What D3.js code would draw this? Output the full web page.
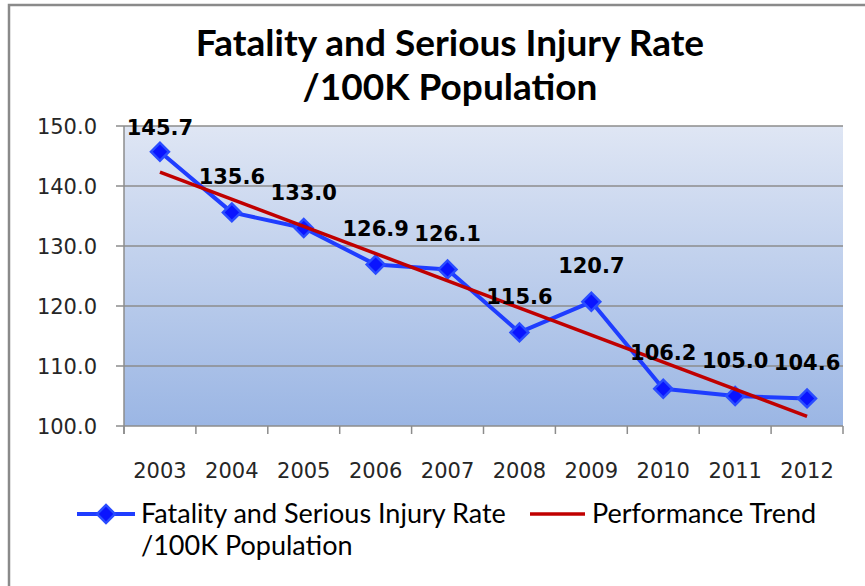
<!DOCTYPE html>
<html>
<head>
<meta charset="utf-8">
<script src="https://d3js.org/d3.v7.min.js"></script>
<style>
body { margin: 0; padding: 0; background: #ffffff; }
svg text { fill: #000; }
.ytick text, .xtick text { font-family: "DejaVu Sans", sans-serif; font-size: 21px; fill: #262626; }
.grid line { stroke: #8c8c8c; stroke-width: 1.5; }
.dlabel { font-family: "DejaVu Sans", sans-serif; font-size: 21px; font-weight: bold; }
.title { font-family: Lato, sans-serif; font-weight: bold; font-size: 37px; }
.legend text { font-family: Lato, sans-serif; font-size: 27px; }
</style>
</head>
<body>
<svg id="chart" width="865" height="586"></svg>
<script>
// chart values
const years = ["2003", "2004", "2005", "2006", "2007", "2008", "2009", "2010", "2011", "2012"];
const rates = [145.7, 135.6, 133.0, 126.9, 126.1, 115.6, 120.7, 106.2, 105.0, 104.6];
const trendYears = ["2003", "2012"];
const trendValues = [142.3, 101.6];
const yTicks = [100, 110, 120, 130, 140, 150];

const plot = {left: 124, top: 126, right: 843, bottom: 426};

const svg = d3.select("#chart");

// outer frame
svg.append("rect")
    .attr("x", 9).attr("y", 5).attr("width", 870).attr("height", 600)
    .attr("fill", "#fff").attr("stroke", "#8a8a8a").attr("stroke-width", 2.5);

const defs = svg.append("defs");
const grad = defs.append("linearGradient").attr("id", "bg").attr("x1", 0).attr("y1", 0).attr("x2", 0).attr("y2", 1);
grad.append("stop").attr("offset", "0%").attr("stop-color", "#dfe6f4");
grad.append("stop").attr("offset", "100%").attr("stop-color", "#9bb6e4");

const x = d3.scaleBand().domain(years).range([plot.left, plot.right]);
const y = d3.scaleLinear().domain([100, 150]).range([plot.bottom, plot.top]);

svg.append("rect")
    .attr("x", plot.left).attr("y", plot.top)
    .attr("width", plot.right - plot.left).attr("height", plot.bottom - plot.top)
    .attr("fill", "url(#bg)");

// grid lines
svg.append("g").attr("class", "grid")
  .selectAll("line").data(yTicks).join("line")
    .attr("x1", plot.left - 8).attr("x2", plot.right)
    .attr("y1", d => y(d)).attr("y2", d => y(d));

// y axis line
svg.append("line")
    .attr("x1", plot.left).attr("x2", plot.left)
    .attr("y1", plot.top).attr("y2", plot.bottom + 8)
    .attr("stroke", "#8c8c8c").attr("stroke-width", 1.5);

// x tick marks at band edges
const edges = years.map(d => x(d)).concat([plot.right]);
svg.append("g").selectAll("line").data(edges).join("line")
    .attr("x1", d => d).attr("x2", d => d)
    .attr("y1", plot.bottom).attr("y2", plot.bottom + 8)
    .attr("stroke", "#8c8c8c").attr("stroke-width", 1.5);

// y tick labels
svg.append("g").attr("class", "ytick")
  .selectAll("text").data(yTicks).join("text")
    .attr("x", 97).attr("y", d => y(d)).attr("dy", "0.36em")
    .attr("text-anchor", "end")
    .text(d => d.toFixed(1));

// x tick labels
svg.append("g").attr("class", "xtick")
  .selectAll("text").data(years).join("text")
    .attr("x", d => x(d) + x.bandwidth() / 2).attr("y", 478)
    .attr("text-anchor", "middle")
    .text(d => d);

const cx = d => x(d) + x.bandwidth() / 2;

// series line
const pts = years.map((d, i) => ({year: d, v: rates[i]}));
svg.append("path")
    .datum(pts)
    .attr("fill", "none").attr("stroke", "#1f3dff").attr("stroke-width", 4)
    .attr("stroke-linejoin", "round")
    .attr("d", d3.line().x(d => cx(d.year)).y(d => y(d.v)));

// diamonds
const diamond = d3.symbol().type(d3.symbolSquare).size(160);
svg.append("g").selectAll("path").data(pts).join("path")
    .attr("d", diamond)
    .attr("transform", d => `translate(${cx(d.year)},${y(d.v)}) rotate(45)`)
    .attr("fill", "#0a14ff").attr("stroke", "#2a4cff").attr("stroke-width", 2.5);

// trend line
svg.append("path")
    .datum(trendYears.map((d, i) => ({year: d, v: trendValues[i]})))
    .attr("fill", "none").attr("stroke", "#c00000").attr("stroke-width", 3.5)
    .attr("d", d3.line().x(d => cx(d.year)).y(d => y(d.v)));

// data labels
svg.append("g").selectAll("text").data(pts).join("text")
    .attr("class", "dlabel")
    .attr("x", d => cx(d.year))
    .attr("y", d => Math.max(y(d.v) - 36, 127))
    .attr("dy", "0.36em")
    .attr("text-anchor", "middle")
    .text(d => d.v.toFixed(1));

// title
svg.append("text").attr("class", "title")
    .attr("x", 450).attr("y", 56).attr("text-anchor", "middle")
    .text("Fatality and Serious Injury Rate");
svg.append("text").attr("class", "title")
    .attr("x", 450).attr("y", 100).attr("text-anchor", "middle")
    .text("/100K Population");

// legend
const lg = svg.append("g").attr("class", "legend");
lg.append("line").attr("x1", 77).attr("x2", 135).attr("y1", 514).attr("y2", 514)
    .attr("stroke", "#1f3dff").attr("stroke-width", 4);
lg.append("path").attr("d", diamond)
    .attr("transform", "translate(106,514) rotate(45)")
    .attr("fill", "#0a14ff").attr("stroke", "#2a4cff").attr("stroke-width", 2.5);
lg.append("text").attr("x", 141).attr("y", 523).text("Fatality and Serious Injury Rate");
lg.append("text").attr("x", 141).attr("y", 555).text("/100K Population");
lg.append("line").attr("x1", 530).attr("x2", 585).attr("y1", 514).attr("y2", 514)
    .attr("stroke", "#c00000").attr("stroke-width", 3.5);
lg.append("text").attr("x", 592).attr("y", 523).text("Performance Trend");
</script>
</body>
</html>
